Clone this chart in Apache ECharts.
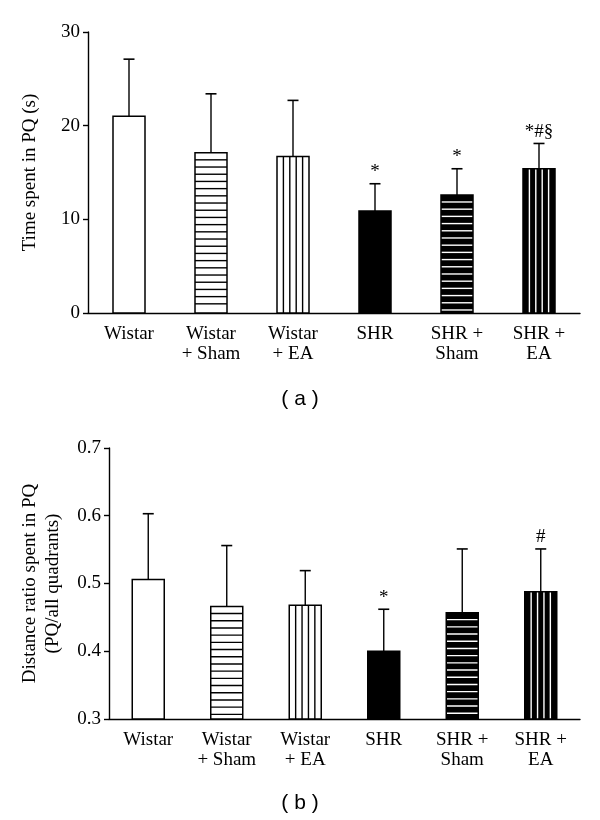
<!DOCTYPE html>
<html>
<head>
<meta charset="utf-8">
<script src="https://cdn.jsdelivr.net/npm/echarts@6/dist/echarts.min.js"></script>
<style>html,body{margin:0;padding:0;background:#fff}#c{width:600px;height:820px}</style>
</head>
<body>
<div id="c"></div>
<script>
// ---- data ----
const categories = ['Wistar', 'Wistar\n+ Sham', 'Wistar\n+ EA', 'SHR', 'SHR +\nSham', 'SHR +\nEA'];
const timeMean = [21.0, 17.1, 16.7, 10.9, 12.6, 15.4];
const timeUpper = [27.1, 23.4, 22.7, 13.8, 15.4, 18.1];
const timeMarks = ['', '', '', '*', '*', '*#§'];
const timeTicks = [0, 10, 20, 30];
const ratioMean = [0.506, 0.466, 0.468, 0.400, 0.457, 0.488];
const ratioUpper = [0.603, 0.556, 0.519, 0.462, 0.551, 0.551];
const ratioMarks = ['', '', '', '*', '', '#'];
const ratioTicks = [0.3, 0.4, 0.5, 0.6, 0.7];

// ---- style ----
const fills = ['plain', 'hlines', 'vlines', 'solid', 'hwhite', 'vwhite'];
const SERIF = '"Liberation Serif", "Times New Roman", serif';
const SANS = '"Liberation Sans", Arial, sans-serif';
const FS = 19;

function barRenderer(yBase) {
  return function (params, api) {
    const i = api.value(0), v = api.value(1);
    const top = api.coord([i, v]);
    const base = api.coord([i, yBase]);
    const w = 32;
    const x = top[0] - w / 2, y = top[1], h = base[1] - top[1];
    const kind = fills[i];
    const dark = kind === 'solid' || kind === 'hwhite' || kind === 'vwhite';
    const lineCol = dark ? '#fff' : '#000';
    const children = [{ type: 'rect', shape: { x, y, width: w, height: h }, style: { fill: dark ? '#000' : '#fff' } }];
    if (kind === 'hlines' || kind === 'hwhite') {
      for (let yy = y + 7; yy < base[1] - 2; yy += 7.2) {
        children.push({ type: 'line', shape: { x1: x, y1: yy, x2: x + w, y2: yy }, style: { stroke: lineCol, lineWidth: 1.4 } });
      }
    } else if (kind === 'vlines' || kind === 'vwhite') {
      for (let k = 1; k <= 4; k++) {
        const xx = x + w * k / 5;
        children.push({ type: 'line', shape: { x1: xx, y1: y, x2: xx, y2: base[1] }, style: { stroke: lineCol, lineWidth: 1.4 } });
      }
    }
    children.push({ type: 'rect', shape: { x, y, width: w, height: h }, style: { fill: 'none', stroke: '#000', lineWidth: 1.5 } });
    return { type: 'group', children };
  };
}

function errRenderer(marks) {
  return function (params, api) {
    const i = api.value(0);
    const a = api.coord([i, api.value(1)]);
    const b = api.coord([i, api.value(2)]);
    const children = [
      { type: 'line', shape: { x1: a[0], y1: a[1], x2: b[0], y2: b[1] }, style: { stroke: '#000', lineWidth: 1.4 } },
      { type: 'line', shape: { x1: b[0] - 5.5, y1: b[1], x2: b[0] + 5.5, y2: b[1] }, style: { stroke: '#000', lineWidth: 1.6 } }
    ];
    if (marks[i]) {
      children.push({ type: 'text', style: { text: marks[i], x: b[0], y: b[1] - 2, align: 'center', verticalAlign: 'bottom', fontFamily: SERIF, fontSize: 19, fill: '#000' } });
    }
    return { type: 'group', children };
  };
}

const axisLine = { show: true, lineStyle: { color: '#000', width: 1.4 } };
function xAx(gi) {
  return {
    type: 'category', gridIndex: gi, data: categories, boundaryGap: true,
    axisLine, axisTick: { show: false },
    axisLabel: { color: '#000', fontFamily: SERIF, fontSize: FS, lineHeight: 20, margin: 11, interval: 0 }
  };
}
function yAx(gi, ticks, name, nameGap, fmt) {
  return {
    type: 'value', gridIndex: gi, min: ticks[0], max: ticks[ticks.length - 1],
    interval: ticks[1] - ticks[0],
    name, nameLocation: 'middle', nameGap,
    nameTextStyle: { color: '#000', fontFamily: SERIF, fontSize: FS, lineHeight: 23 },
    axisLine, axisTick: { show: true, length: 5, lineStyle: { color: '#000', width: 1.4 } },
    splitLine: { show: false },
    axisLabel: { color: '#000', fontFamily: SERIF, fontSize: FS, margin: 8, formatter: fmt }
  };
}

const chart = echarts.init(document.getElementById('c'), null, { renderer: 'canvas' });
chart.setOption({
  backgroundColor: '#fff',
  animation: false,
  grid: [
    { left: 88, right: 20, top: 32, height: 281 },
    { left: 109, right: 20, top: 448, height: 271 }
  ],
  xAxis: [xAx(0), xAx(1)],
  yAxis: [
    yAx(0, timeTicks, 'Time spent in PQ (s)', 46, v => String(v)),
    yAx(1, ratioTicks, 'Distance ratio spent in PQ\n(PQ/all quadrants)', 44, v => v.toFixed(1))
  ],
  graphic: [
    { type: 'text', left: 'center', top: 389, style: { text: '( a )', fontFamily: SANS, fontSize: 21, fill: '#000' } },
    { type: 'text', left: 'center', top: 793, style: { text: '( b )', fontFamily: SANS, fontSize: 21, fill: '#000' } }
  ],
  series: [
    { type: 'custom', xAxisIndex: 0, yAxisIndex: 0, renderItem: barRenderer(0), data: timeMean.map((v, i) => [i, v]), z: 2 },
    { type: 'custom', xAxisIndex: 0, yAxisIndex: 0, renderItem: errRenderer(timeMarks), data: timeMean.map((v, i) => [i, v, timeUpper[i]]), z: 1 },
    { type: 'custom', xAxisIndex: 1, yAxisIndex: 1, renderItem: barRenderer(ratioTicks[0]), data: ratioMean.map((v, i) => [i, v]), z: 2 },
    { type: 'custom', xAxisIndex: 1, yAxisIndex: 1, renderItem: errRenderer(ratioMarks), data: ratioMean.map((v, i) => [i, v, ratioUpper[i]]), z: 1 }
  ]
});
</script>
</body>
</html>
